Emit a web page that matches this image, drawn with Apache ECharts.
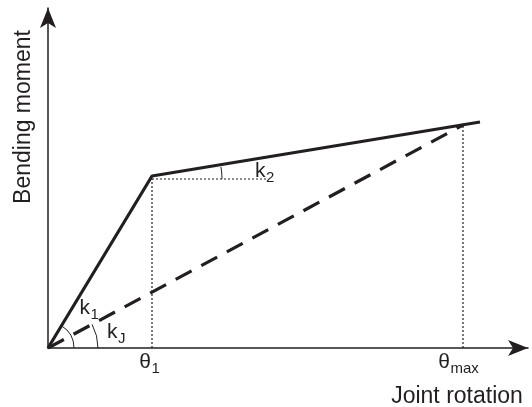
<!DOCTYPE html>
<html><head><meta charset="utf-8">
<script src="https://cdn.jsdelivr.net/npm/echarts@6/dist/echarts.min.js"></script>
<style>html,body{margin:0;padding:0;background:#fff}#c{width:532px;height:407px}</style>
</head><body><div id="c"></div>
<script>
// Moment–rotation curve (arbitrary units)
const bilinearX = [0, 1.04, 4.32];
const bilinearY = [0, 1.72, 2.26];
const secantX = [0, 4.15];
const secantY = [0, 2.23];
const theta1Guide = [[1.04, 0], [1.04, 1.69]];
const thetaMaxGuide = [[4.15, 0], [4.15, 2.23]];
const k2Guide = [[1.04, 1.69], [2.20, 1.69]];
// angle arcs: centre, end point defining the upper ray, radius in px
const arcCentres = [[0, 0], [0, 0], [1.04, 1.69]];
const arcRayEnds = [[1.04, 1.72], [4.15, 2.23], [4.32, 2.26]];
const arcRadii = [26, 50, 70];
// annotation texts: anchor (boundary between main text and subscript)
const annX = [0.42, 0.695, 2.175, 1.03, 4.02];
const annY = [0.40, 0.16, 1.77, -0.14, -0.14];
const annMain = ['k', 'k', 'k', 'θ', 'θ'];
const annSub = ['1', 'J', '2', '1', 'max'];
const xTitle = 'Joint rotation';
const yTitle = 'Bending moment';

const ink = '#231f20';
const font = '"Liberation Sans", Arial, Helvetica, sans-serif';
const chart = echarts.init(document.getElementById('c'), null, {renderer: 'canvas'});
const zip = (a, b) => a.map((v, i) => [v, b[i]]);

const arcData = arcCentres.map((c, i) => [c[0], c[1], arcRayEnds[i][0], arcRayEnds[i][1], arcRadii[i]]);
const annData = annX.map((x, i) => [x, annY[i], annMain[i], annSub[i]]);

chart.setOption({
  animation: false,
  grid: {left: 48, right: 4, top: 8, bottom: 59},
  xAxis: {type: 'value', min: 0, max: 4.80, splitLine: {show: false},
    axisLine: {show: true, symbol: ['none', 'arrow'], symbolSize: [12, 20], lineStyle: {color: ink, width: 1.5}},
    axisTick: {show: false}, axisLabel: {show: false}},
  yAxis: {type: 'value', min: 0, max: 3.40, splitLine: {show: false},
    axisLine: {show: true, symbol: ['none', 'arrow'], symbolSize: [12, 20], lineStyle: {color: ink, width: 1.5}},
    axisTick: {show: false}, axisLabel: {show: false}},
  graphic: [
    {type: 'text', x: 457, y: 397, style: {text: xTitle, font: '23px ' + font, fill: ink, align: 'center', verticalAlign: 'middle'}},
    {type: 'text', x: 24, y: 117, rotation: Math.PI / 2, style: {text: yTitle, font: '23px ' + font, fill: ink, align: 'center', verticalAlign: 'middle'}}
  ],
  series: [
    {type: 'line', data: theta1Guide, symbol: 'none', lineStyle: {color: ink, width: 1.2, type: [2, 2]}},
    {type: 'line', data: thetaMaxGuide, symbol: 'none', lineStyle: {color: ink, width: 1.2, type: [2, 2]}},
    {type: 'line', data: k2Guide, symbol: 'none', lineStyle: {color: ink, width: 1.2, type: [2, 2]}},
    {type: 'line', data: zip(secantX, secantY), symbol: 'none', lineStyle: {color: ink, width: 3.2, type: [18, 11]}},
    {type: 'line', data: zip(bilinearX, bilinearY), symbol: 'none', lineStyle: {color: ink, width: 3.2}},
    {type: 'custom', data: arcData, clip: false, renderItem: function (params, api) {
      const c = api.coord([api.value(0), api.value(1)]);
      const e = api.coord([api.value(2), api.value(3)]);
      const ang = Math.atan2(e[1] - c[1], e[0] - c[0]);
      return {type: 'arc', shape: {cx: c[0], cy: c[1], r: api.value(4), startAngle: ang, endAngle: 0, clockwise: true},
        style: {stroke: ink, lineWidth: 1, fill: null}};
    }},
    {type: 'custom', data: annData, clip: false, renderItem: function (params, api) {
      const p = api.coord([api.value(0), api.value(1)]);
      const d = annData[params.dataIndex];
      return {type: 'group', children: [
        {type: 'text', x: p[0], y: p[1], style: {text: d[2], font: '21px ' + font, fill: ink, align: 'right', verticalAlign: 'middle'}},
        {type: 'text', x: p[0] + 0.5, y: p[1] + 7, style: {text: d[3], font: '15px ' + font, fill: ink, align: 'left', verticalAlign: 'middle'}}
      ]};
    }}
  ]
});
</script></body></html>
